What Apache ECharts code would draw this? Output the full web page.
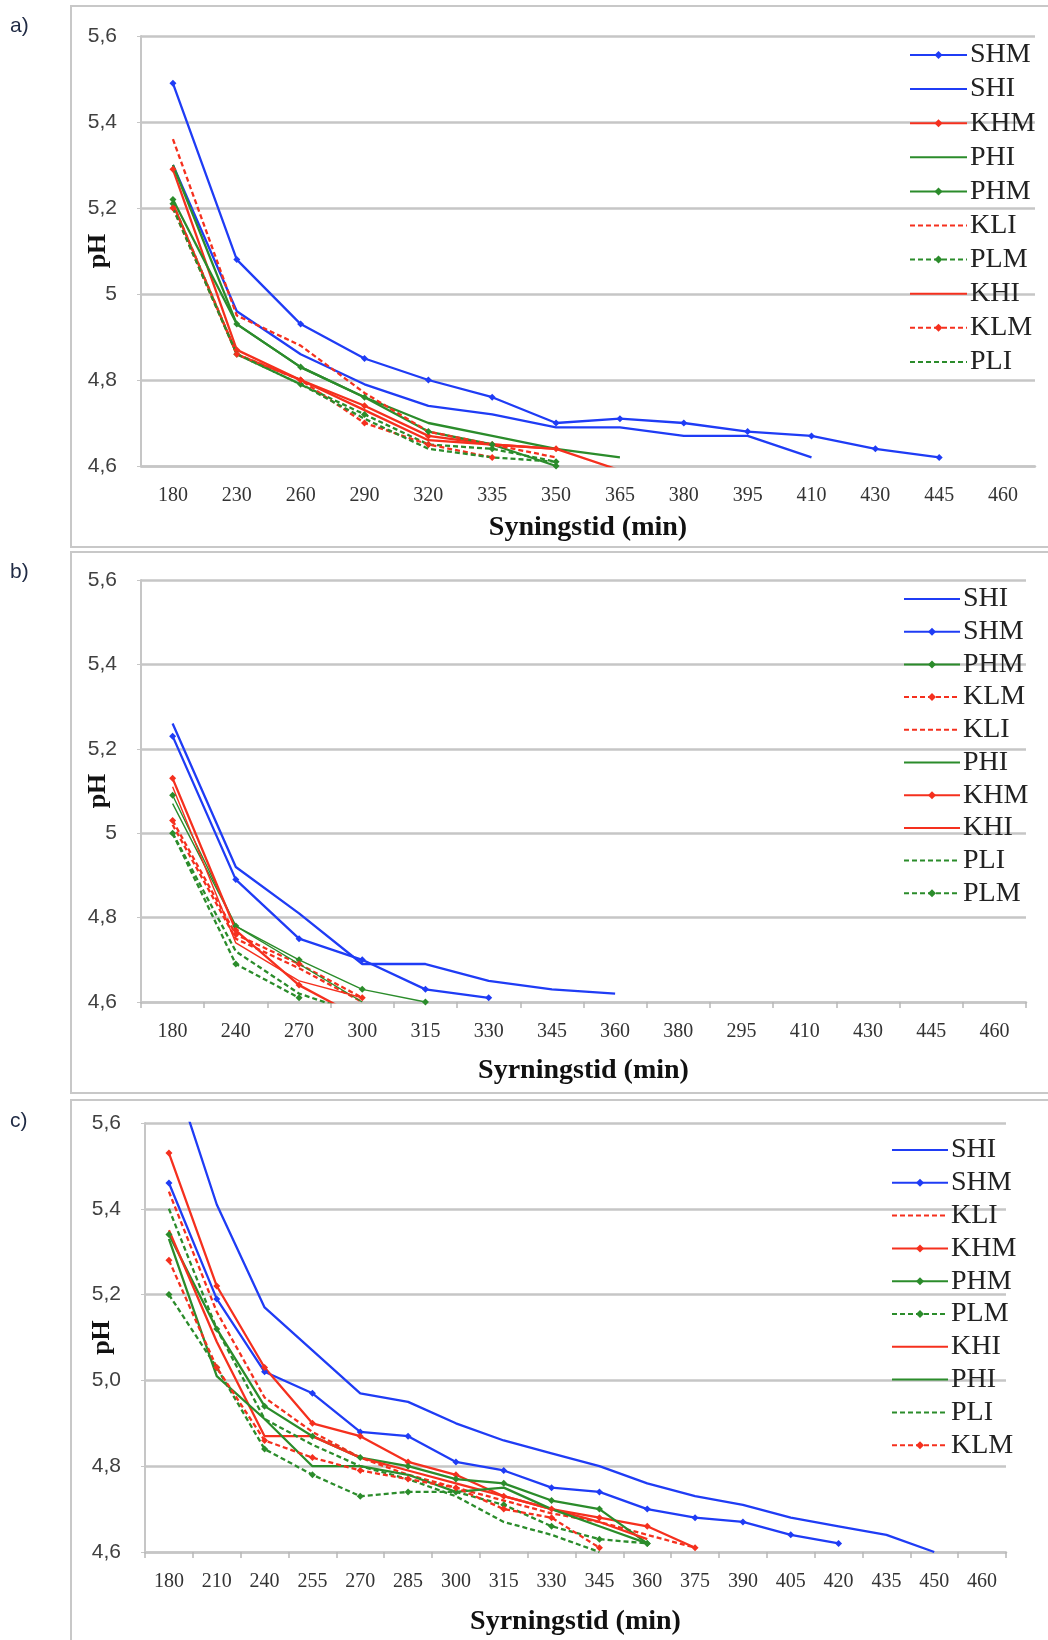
<!DOCTYPE html>
<html>
<head>
<meta charset="utf-8">
<script src="https://cdn.jsdelivr.net/npm/echarts@6/dist/echarts.min.js"></script>
<style>
  html, body { margin: 0; padding: 0; background: #fff; }
  #chart { width: 1048px; height: 1640px; }
</style>
</head>
<body>
<div id="chart"></div>
<script>
/*
 * x categories (minutes) for each panel, as printed on the axes
 */
const catsA = ['180', '230', '260', '290', '320', '335', '350', '365', '380', '395', '410', '430', '445', '460'];
const catsB = ['180', '240', '270', '300', '315', '330', '345', '360', '380', '295', '410', '430', '445', '460'];
const catsC = ['180', '210', '240', '255', '270', '285', '300', '315', '330', '345', '360', '375', '390', '405', '420', '435', '450', '460'];

const yTicks = [4.6, 4.8, 5.0, 5.2, 5.4, 5.6];

/*
 * panel a) pH values
 */
const a_SHM = [5.49, 5.08, 4.93, 4.85, 4.80, 4.76, 4.70, 4.71, 4.70, 4.68, 4.67, 4.64, 4.62];
const a_SHI = [5.30, 4.96, 4.86, 4.79, 4.74, 4.72, 4.69, 4.69, 4.67, 4.67, 4.62];
const a_KHM = [5.29, 4.87, 4.80, 4.74, 4.67, 4.65, 4.64];
const a_PHI = [5.30, 4.93, 4.83, 4.76, 4.70, 4.67, 4.64, 4.62];
const a_PHM = [5.22, 4.93, 4.83, 4.76, 4.68, 4.65, 4.60];
const a_KLI = [5.36, 4.95, 4.88, 4.77, 4.68, 4.65, 4.62];
const a_PLM = [5.21, 4.86, 4.79, 4.72, 4.65, 4.64, 4.61];
const a_KHI = [5.21, 4.86, 4.80, 4.73, 4.66, 4.65, 4.64, 4.59];
const a_KLM = [5.20, 4.86, 4.80, 4.70, 4.65, 4.62];
const a_PLI = [5.20, 4.86, 4.79, 4.71, 4.64, 4.62, 4.61];

/*
 * panel b) pH values
 */
const b_SHI = [5.26, 4.92, 4.81, 4.69, 4.69, 4.65, 4.63, 4.62];
const b_SHM = [5.23, 4.89, 4.75, 4.70, 4.63, 4.61];
const b_PHM = [5.09, 4.78, 4.70, 4.63, 4.60];
const b_KLM = [5.03, 4.76, 4.69, 4.61];
const b_KLI = [5.02, 4.75, 4.68, 4.60];
const b_PHI = [5.07, 4.78, 4.69, 4.60];
const b_KHM = [5.13, 4.77, 4.64, 4.56];
const b_KHI = [5.11, 4.74, 4.65, 4.61];
const b_PLI = [5.00, 4.72, 4.62, 4.57];
const b_PLM = [5.00, 4.69, 4.61];

/*
 * panel c) pH values
 */
const c_SHI = [5.75, 5.41, 5.17, 5.07, 4.97, 4.95, 4.90, 4.86, 4.83, 4.80, 4.76, 4.73, 4.71, 4.68, 4.66, 4.64, 4.60];
const c_SHM = [5.46, 5.19, 5.02, 4.97, 4.88, 4.87, 4.81, 4.79, 4.75, 4.74, 4.70, 4.68, 4.67, 4.64, 4.62];
const c_KLI = [5.44, 5.16, 4.96, 4.88, 4.82, 4.78, 4.75, 4.72, 4.69, 4.67, 4.64, 4.61];
const c_KHM = [5.53, 5.22, 5.03, 4.90, 4.87, 4.81, 4.78, 4.73, 4.70, 4.68, 4.66, 4.61];
const c_PHM = [5.34, 5.12, 4.94, 4.87, 4.82, 4.80, 4.77, 4.76, 4.72, 4.70, 4.62];
const c_PLM = [5.20, 5.03, 4.84, 4.78, 4.73, 4.74, 4.74, 4.71, 4.66, 4.63, 4.62];
const c_KHI = [5.35, 5.09, 4.87, 4.87, 4.82, 4.79, 4.76, 4.73, 4.70, 4.67, 4.63];
const c_PHI = [5.33, 5.01, 4.91, 4.80, 4.80, 4.78, 4.74, 4.75, 4.70, 4.66, 4.62];
const c_PLI = [5.40, 5.12, 4.91, 4.85, 4.80, 4.77, 4.73, 4.67, 4.64, 4.60];
const c_KLM = [5.28, 5.03, 4.86, 4.82, 4.79, 4.77, 4.75, 4.70, 4.68, 4.61];

/*
 * legend order per panel, with the data that goes with each name
 */
const panelA = [['SHM', a_SHM], ['SHI', a_SHI], ['KHM', a_KHM], ['PHI', a_PHI], ['PHM', a_PHM],
                ['KLI', a_KLI], ['PLM', a_PLM], ['KHI', a_KHI], ['KLM', a_KLM], ['PLI', a_PLI]];
const panelB = [['SHI', b_SHI], ['SHM', b_SHM], ['PHM', b_PHM], ['KLM', b_KLM], ['KLI', b_KLI],
                ['PHI', b_PHI], ['KHM', b_KHM], ['KHI', b_KHI], ['PLI', b_PLI], ['PLM', b_PLM]];
const panelC = [['SHI', c_SHI], ['SHM', c_SHM], ['KLI', c_KLI], ['KHM', c_KHM], ['PHM', c_PHM],
                ['PLM', c_PLM], ['KHI', c_KHI], ['PHI', c_PHI], ['PLI', c_PLI], ['KLM', c_KLM]];

const BLUE = '#1f3cf5', RED = '#f5301e', GREEN = '#2b8c2b';
const GRID_GREY = '#c6c6c6';
const SERIF = '"Liberation Serif", "DejaVu Serif", serif';
const SANS = '"Liberation Sans", Arial, sans-serif';

/*
 * style comes from the code itself: S/K/P -> colour, L -> dashed, M -> marker
 */
function makeSeries(panel, idx, name, data, thin) {
    var color = name[0] === 'S' ? BLUE : (name[0] === 'K' ? RED : GREEN);
    var dashed = name[1] === 'L';
    var marker = name[2] === 'M';
    return {
        name: panel + '/' + name,
        type: 'line',
        xAxisIndex: idx,
        yAxisIndex: idx,
        data: data,
        symbol: marker ? 'diamond' : 'none',
        symbolSize: 7,
        showSymbol: marker,
        clip: true,
        animation: false,
        lineStyle: { color: color, width: thin ? 1.4 : 2.3, type: dashed ? [5, 3] : 'solid' },
        itemStyle: { color: color }
    };
}

function yFmt(keepZero) {
    return function (v) {
        var s = v.toFixed(1).replace('.', ',');
        if (!keepZero && s === '5,0') return '5';
        return s;
    };
}

function xAxis(idx, cats, name, gap, ticks) {
    return {
        type: 'category', gridIndex: idx, data: cats, boundaryGap: true,
        name: name, nameLocation: 'middle', nameGap: gap,
        nameTextStyle: { fontFamily: SERIF, fontWeight: 'bold', fontSize: 28, color: '#111' },
        axisLine: { show: true, lineStyle: { color: GRID_GREY, width: 2.5 } },
        axisTick: { show: ticks, length: 6, lineStyle: { color: '#b8b8b8', width: 1.5 } },
        axisLabel: { interval: 0, margin: 20, fontFamily: SERIF, fontSize: 20, color: '#333' },
        splitLine: { show: false }
    };
}

function yAxis(idx, keepZero) {
    return {
        type: 'value', gridIndex: idx, min: yTicks[0], max: yTicks[yTicks.length - 1], interval: 0.2,
        name: 'pH', nameLocation: 'middle', nameGap: 30, nameMoveOverlap: false,
        nameTextStyle: { fontFamily: SERIF, fontWeight: 'bold', fontSize: 26, color: '#111' },
        axisLine: { show: true, lineStyle: { color: GRID_GREY, width: 2 } },
        axisTick: { show: true, length: 4, lineStyle: { color: GRID_GREY } },
        axisLabel: { margin: 24, fontFamily: SANS, fontSize: 21, color: '#404040', formatter: yFmt(keepZero) },
        splitLine: { show: true, lineStyle: { color: GRID_GREY, width: 2.5 } }
    };
}

/*
 * legend items: plain line for the series without markers (hide the default dot)
 */
function legend(panel, list, left, top, gap, width) {
    return {
        orient: 'vertical', left: left, top: top,
        itemWidth: width, itemHeight: 10, itemGap: gap,
        selectedMode: false,
        data: list.map(function (p) {
            var item = { name: panel + '/' + p[0] };
            if (p[0][2] !== 'M') {
                item.itemStyle = { color: 'rgba(0,0,0,0)', borderColor: 'rgba(0,0,0,0)', borderWidth: 0, opacity: 0 };
            }
            return item;
        }),
        formatter: function (n) { return n.split('/')[1]; },
        textStyle: { fontFamily: SERIF, fontSize: 28, color: '#222', padding: [0, 0, 0, -2] }
    };
}

var series = [];
panelA.forEach(function (p) { series.push(makeSeries('a', 0, p[0], p[1], false)); });
panelB.forEach(function (p) {
    series.push(makeSeries('b', 1, p[0], p[1], p[0] === 'PHM' || p[0] === 'PHI' || p[0] === 'KHI'));
});
panelC.forEach(function (p) { series.push(makeSeries('c', 2, p[0], p[1], false)); });

function box(y, h) {
    return { type: 'rect', shape: { x: 71, y: y, width: 1000, height: h },
             style: { fill: 'none', stroke: '#c8c8c8', lineWidth: 2 }, z: -1 };
}
function tag(t, y) {
    return { type: 'text', x: 10, y: y, style: { text: t, fontFamily: SANS, fontSize: 21, fill: '#1f2a44' } };
}

var option = {
    backgroundColor: '#fff',
    animation: false,
    grid: [
        { left: 141, top: 36, width: 894, height: 430 },
        { left: 141, top: 580, width: 885, height: 422 },
        { left: 145, top: 1123, width: 861, height: 429 }
    ],
    xAxis: [
        xAxis(0, catsA, 'Syningstid (min)', 48, false),
        xAxis(1, catsB, 'Syrningstid (min)', 55, true),
        xAxis(2, catsC, 'Syrningstid (min)', 56, true)
    ],
    yAxis: [yAxis(0, false), yAxis(1, false), yAxis(2, true)],
    legend: [
        legend('a', panelA, 904, 36, 6.1, 57),
        legend('b', panelB, 898, 580, 4.7, 56),
        legend('c', panelC, 886, 1131, 4.8, 56)
    ],
    graphic: [
        box(6, 541), box(552, 541), box(1100, 560),
        tag('a)', 16), tag('b)', 562), tag('c)', 1111)
    ],
    series: series
};

var chart = echarts.init(document.getElementById('chart'), null, { renderer: 'canvas' });
chart.setOption(option);
</script>
</body>
</html>
